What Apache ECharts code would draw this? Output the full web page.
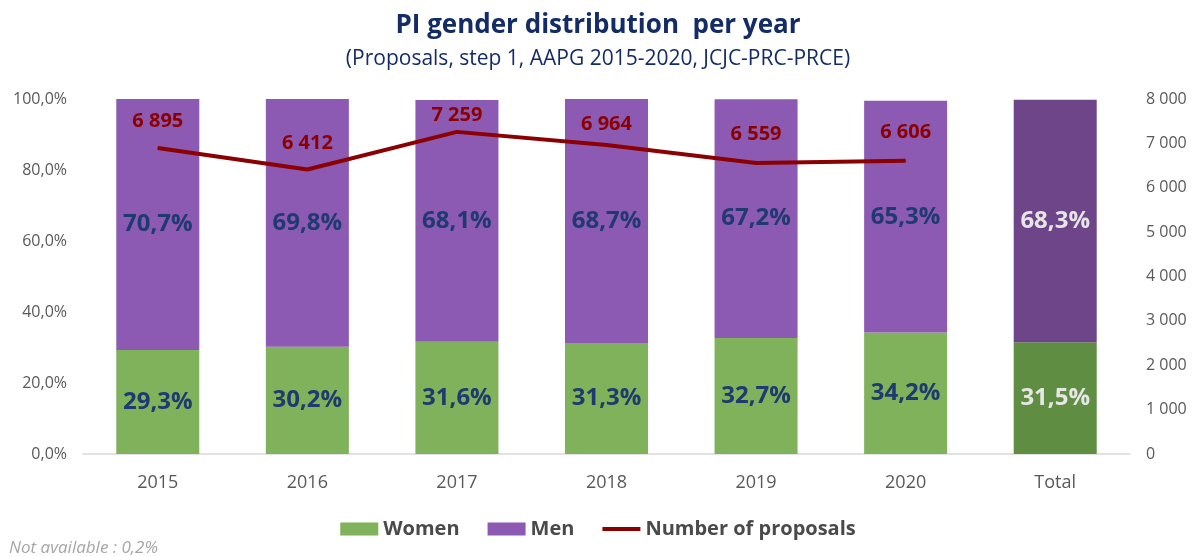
<!DOCTYPE html>
<html>
<head>
<meta charset="utf-8">
<script src="https://cdn.jsdelivr.net/npm/echarts@6/dist/echarts.min.js"></script>
<style>
  html, body { margin: 0; padding: 0; background: #fff; }
  #chart { width: 1196px; height: 556px; }
</style>
</head>
<body>
<div id="chart"></div>
<script>
var categories = ['2015', '2016', '2017', '2018', '2019', '2020', 'Total'];
var women = [29.3, 30.2, 31.6, 31.3, 32.7, 34.2, 31.5];
var men = [70.7, 69.8, 68.1, 68.7, 67.2, 65.3, 68.3];
var proposals = [6895, 6412, 7259, 6964, 6559, 6606, '-'];
var leftTicks = [0, 20, 40, 60, 80, 100];
var rightTicks = [0, 1000, 2000, 3000, 4000, 5000, 6000, 7000, 8000];

var FONT = 'Open Sans';
var last = categories.length - 1;
// gap between the line and its value labels (px), per point
var labelGap = [16, 16, 6, 10, 18, 18, 16];

function pct(v) {
    return v.toFixed(1).replace('.', ',') + '%';
}
function thousands(v) {
    return String(v).replace(/\B(?=(\d{3})+(?!\d))/g, ' ');
}
// the Total column is drawn darker, with a light label
function barData(values, totalColor) {
    return values.map(function(v, i) {
        if (i === last) {
            return { value: v, itemStyle: { color: totalColor }, label: { color: '#E6E6E6' } };
        }
        return v;
    });
}

var myChart = echarts.init(document.getElementById('chart'));
var option = {
    animation: false,
    textStyle: { fontFamily: FONT },
    title: [{
        text: 'PI gender distribution  per year',
        left: 'center',
        top: 8,
        textStyle: { fontFamily: FONT, fontSize: 26, fontWeight: 'bold', color: '#142C66' }
    }, {
        text: '(Proposals, step 1, AAPG 2015-2020, JCJC-PRC-PRCE)',
        left: 'center',
        top: 44,
        textStyle: { fontFamily: FONT, fontSize: 21, fontWeight: 'normal', color: '#142C66' }
    }, {
        text: 'Not available : 0,2%',
        left: 4,
        top: 535,
        textStyle: { fontFamily: FONT, fontSize: 17, fontStyle: 'italic', fontWeight: 'normal', color: '#A6A6A6' }
    }],
    legend: {
        bottom: 12,
        left: 'center',
        itemWidth: 38,
        itemHeight: 13,
        itemGap: 28,
        textStyle: { fontFamily: FONT, fontSize: 20, fontWeight: 'bold', color: '#4A4A4A' },
        data: [
            { name: 'Women', icon: 'rect' },
            { name: 'Men', icon: 'rect' },
            { name: 'Number of proposals', icon: 'path://M0,0H40V4H0Z' }
        ]
    },
    grid: { left: 83, right: 66, top: 99, bottom: 102 },
    xAxis: {
        type: 'category',
        data: categories,
        axisLine: { lineStyle: { color: '#D9D9D9', width: 1.5 } },
        axisTick: { show: false },
        axisLabel: { fontFamily: FONT, fontSize: 18, color: '#595959', margin: 20 }
    },
    yAxis: [{
        type: 'value',
        min: leftTicks[0],
        max: leftTicks[leftTicks.length - 1],
        interval: 20,
        splitLine: { show: false },
        axisLine: { show: false },
        axisLabel: { fontFamily: FONT, fontSize: 16, color: '#595959', margin: 16, formatter: pct }
    }, {
        type: 'value',
        min: rightTicks[0],
        max: rightTicks[rightTicks.length - 1],
        interval: 1000,
        splitLine: { show: false },
        axisLine: { show: false },
        axisLabel: { fontFamily: FONT, fontSize: 16, color: '#595959', margin: 16, formatter: thousands }
    }],
    series: [{
        name: 'Women',
        type: 'bar',
        stack: 'gender',
        barWidth: '55.5%',
        itemStyle: { color: '#7FB25A' },
        label: {
            show: true,
            position: 'inside',
            fontFamily: FONT,
            fontSize: 24,
            fontWeight: 'bold',
            color: '#1F3A70',
            formatter: function(p) { return pct(p.value); }
        },
        data: barData(women, '#5F8D42')
    }, {
        name: 'Men',
        type: 'bar',
        stack: 'gender',
        itemStyle: { color: '#8C59B3' },
        label: {
            show: true,
            position: 'inside',
            fontFamily: FONT,
            fontSize: 24,
            fontWeight: 'bold',
            color: '#1F3A70',
            formatter: function(p) { return pct(p.value); }
        },
        data: barData(men, '#6E4589')
    }, {
        name: 'Number of proposals',
        type: 'line',
        yAxisIndex: 1,
        symbol: 'circle',
        symbolSize: 1,
        itemStyle: { color: '#8B0000' },
        lineStyle: { color: '#8B0000', width: 4 },
        label: {
            show: true,
            position: 'top',
            fontFamily: FONT,
            fontSize: 20,
            fontWeight: 'bold',
            color: '#8B0000',
            formatter: function(p) { return thousands(p.value); }
        },
        data: proposals.map(function(v, i) {
            return { value: v, label: { distance: labelGap[i] } };
        })
    }]
};
myChart.setOption(option);

window.onresize = function() {
    myChart.resize();
};
</script>
</body>
</html>
